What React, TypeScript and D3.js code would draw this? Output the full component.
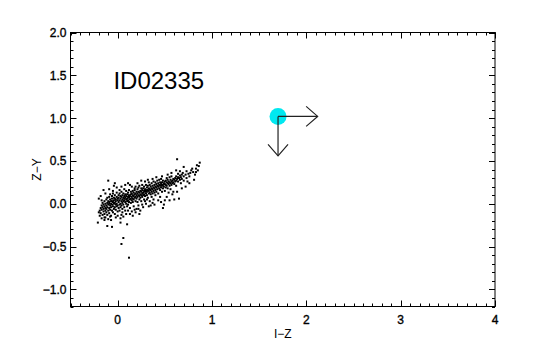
import * as d3 from "d3";

// I-Z vs Z-Y colour-colour diagram for ID02335

const xTicks = [0, 1, 2, 3, 4];
const yTicks = [-1.0, -0.5, 0.0, 0.5, 1.0, 1.5, 2.0];

const objectName = "ID02335";
const objectPoint = { iz: 1.7, zy: 1.02 };
// arrow vectors in data units (right and down)
const arrowRight = { diz: 0.42, dzy: 0 };
const arrowDown = { diz: 0, dzy: -0.46 };

// field stars: [I-Z, Z-Y]
const tipStars: [number, number][] = [
  [-0.21, -0.22], [-0.19, -0.08], [-0.18, -0.05], [-0.18, -0.11], [-0.17, -0.02], [-0.17, -0.07],
  [-0.16, -0.13], [-0.16, -0.04], [-0.16, 0.01], [-0.15, -0.09], [-0.15, -0.06], [-0.15, -0.01],
  [-0.14, -0.12], [-0.14, -0.03], [-0.14, 0.03], [-0.13, -0.08], [-0.13, -0.05], [-0.13, 0.0],
  [-0.13, -0.16], [-0.12, -0.1], [-0.12, -0.02], [-0.12, 0.05], [-0.12, -0.06], [-0.11, -0.13],
  [-0.11, -0.04], [-0.11, 0.01], [-0.11, 0.07], [-0.1, -0.08], [-0.1, -0.01], [-0.1, 0.03],
  [-0.1, -0.18], [-0.19, -0.14], [-0.2, -0.1], [-0.17, 0.04], [-0.14, -0.19],
  [-0.09, -0.05], [-0.09, 0.02], [-0.09, 0.08], [-0.09, -0.11], [-0.08, -0.02], [-0.08, 0.05],
  [-0.08, -0.07], [-0.08, 0.11], [-0.07, 0.0], [-0.07, -0.04], [-0.07, 0.03], [-0.07, -0.14],
  [-0.06, 0.06], [-0.06, -0.01], [-0.06, -0.08], [-0.06, 0.09], [-0.05, 0.02], [-0.05, -0.03],
  [-0.05, 0.12], [-0.05, -0.1], [-0.04, 0.04], [-0.04, 0.0], [-0.04, -0.06], [-0.04, 0.07],
  [-0.03, 0.01], [-0.03, -0.04], [-0.03, 0.1], [-0.03, -0.12], [-0.02, 0.05], [-0.02, -0.01],
  [-0.02, 0.03], [-0.02, -0.07], [-0.01, 0.08], [-0.01, 0.0], [-0.01, -0.03], [-0.01, 0.13],
  [0.0, 0.04], [0.0, -0.02], [0.0, 0.06], [0.0, -0.09], [-0.09, 0.0], [-0.06, 0.03],
  [-0.03, 0.06], [-0.08, -0.15], [-0.05, 0.15], [-0.02, -0.16],
];

const coreStars: [number, number][] = [
  [0.01, 0.02], [0.01, 0.07], [0.01, -0.05], [0.01, 0.1], [0.02, 0.04], [0.02, -0.01],
  [0.02, 0.12], [0.02, -0.08], [0.03, 0.06], [0.03, 0.0], [0.03, 0.09], [0.03, -0.04],
  [0.04, 0.03], [0.04, 0.08], [0.04, -0.02], [0.04, 0.14], [0.05, 0.05], [0.05, 0.01],
  [0.05, 0.1], [0.05, -0.06], [0.06, 0.07], [0.06, 0.03], [0.06, -0.01], [0.06, 0.12],
  [0.07, 0.04], [0.07, 0.09], [0.07, -0.04], [0.07, 0.06], [0.08, 0.02], [0.08, 0.11],
  [0.08, 0.07], [0.08, -0.08], [0.09, 0.05], [0.09, 0.09], [0.09, 0.0], [0.09, 0.15],
  [0.1, 0.06], [0.1, 0.03], [0.1, 0.11], [0.1, -0.03], [0.02, 0.16], [0.05, -0.1],
  [0.07, 0.17], [0.04, -0.13], [0.09, -0.12],
  [0.11, 0.08], [0.11, 0.04], [0.11, 0.13], [0.11, -0.01], [0.12, 0.07], [0.12, 0.1],
  [0.12, 0.02], [0.12, 0.16], [0.13, 0.05], [0.13, 0.09], [0.13, -0.05], [0.13, 0.22],
  [0.14, 0.11], [0.14, 0.06], [0.14, 0.14], [0.14, 0.01], [0.15, 0.08], [0.15, 0.12],
  [0.15, 0.04], [0.15, -0.09], [0.16, 0.1], [0.16, 0.06], [0.16, 0.15], [0.16, 0.02],
  [0.17, 0.09], [0.17, 0.13], [0.17, 0.05], [0.17, -0.03], [0.18, 0.11], [0.18, 0.07],
  [0.18, 0.16], [0.18, 0.18], [0.19, 0.08], [0.19, 0.12], [0.19, 0.03], [0.19, 0.2],
  [0.2, 0.1], [0.2, 0.14], [0.2, 0.06], [0.2, -0.06], [0.13, -0.12], [0.16, -0.14],
  [0.19, -0.1],
  [0.21, 0.12], [0.21, 0.08], [0.21, 0.17], [0.21, 0.02], [0.22, 0.1], [0.22, 0.14],
  [0.22, 0.19], [0.22, -0.02], [0.23, 0.13], [0.23, 0.09], [0.23, 0.05], [0.23, 0.21],
  [0.24, 0.11], [0.24, 0.15], [0.24, 0.07], [0.24, -0.08], [0.25, 0.14], [0.25, 0.1],
  [0.25, 0.18], [0.25, 0.03], [0.26, 0.12], [0.26, 0.16], [0.26, 0.08], [0.26, 0.22],
  [0.27, 0.13], [0.27, 0.1], [0.27, 0.18], [0.27, -0.04], [0.28, 0.15], [0.28, 0.11],
  [0.28, 0.2], [0.28, 0.05], [0.29, 0.14], [0.29, 0.17], [0.29, 0.09], [0.3, 0.16],
  [0.3, 0.12], [0.3, 0.22], [0.3, 0.0], [0.23, -0.12],
];

const midStars: [number, number][] = [
  [0.31, 0.14], [0.31, 0.19], [0.31, 0.1], [0.32, 0.16], [0.32, 0.21], [0.32, 0.07],
  [0.33, 0.15], [0.33, 0.18], [0.33, 0.12], [0.33, 0.25], [0.34, 0.17], [0.34, 0.13],
  [0.34, 0.22], [0.34, 0.03], [0.35, 0.16], [0.35, 0.2], [0.35, 0.11], [0.36, 0.18],
  [0.36, 0.14], [0.36, 0.24], [0.36, 0.08], [0.37, 0.17], [0.37, 0.21], [0.37, 0.12],
  [0.38, 0.19], [0.38, 0.15], [0.38, 0.26], [0.38, 0.05], [0.39, 0.18], [0.39, 0.22],
  [0.39, 0.13], [0.4, 0.2], [0.4, 0.16], [0.4, 0.25], [0.4, 0.1], [0.35, -0.02],
  [0.31, 0.05], [0.39, -0.01],
  [0.41, 0.19], [0.41, 0.23], [0.41, 0.14], [0.42, 0.21], [0.42, 0.17], [0.42, 0.27],
  [0.43, 0.2], [0.43, 0.24], [0.43, 0.12], [0.44, 0.22], [0.44, 0.18], [0.44, 0.28],
  [0.45, 0.21], [0.45, 0.16], [0.45, 0.25], [0.45, 0.08], [0.46, 0.23], [0.46, 0.19],
  [0.46, 0.29], [0.47, 0.21], [0.47, 0.25], [0.47, 0.14], [0.48, 0.22], [0.48, 0.18],
  [0.48, 0.27], [0.48, -0.05], [0.49, 0.24], [0.49, 0.2], [0.49, -0.01], [0.5, 0.23],
  [0.5, 0.26], [0.5, 0.15], [0.5, 0.04],
  [0.51, 0.22], [0.51, 0.27], [0.51, 0.19], [0.52, 0.25], [0.52, 0.21], [0.52, 0.3],
  [0.53, 0.24], [0.53, 0.18], [0.53, 0.28], [0.54, 0.23], [0.54, 0.26], [0.54, 0.13],
  [0.55, 0.25], [0.55, 0.21], [0.55, 0.31], [0.56, 0.24], [0.56, 0.28], [0.56, 0.17],
  [0.57, 0.26], [0.57, 0.22], [0.57, 0.32], [0.58, 0.27], [0.58, 0.24], [0.58, 0.11],
  [0.59, 0.29], [0.59, 0.25], [0.6, 0.28], [0.6, 0.23], [0.6, 0.05],
];

const redStars: [number, number][] = [
  [0.61, 0.3], [0.61, 0.26], [0.62, 0.32], [0.62, 0.27], [0.62, 0.21], [0.63, 0.29],
  [0.63, 0.52], [0.64, 0.31], [0.64, 0.26], [0.64, 0.35], [0.65, 0.3], [0.65, 0.06],
  [0.66, 0.33], [0.66, 0.28], [0.67, 0.31], [0.67, 0.24], [0.68, 0.34], [0.68, 0.29],
  [0.69, 0.36], [0.7, 0.32], [0.7, 0.43], [0.7, 0.27], [0.72, 0.34], [0.73, 0.3],
  [0.73, 0.38], [0.74, 0.26], [0.75, 0.35], [0.76, 0.32], [0.77, 0.36], [0.78, 0.39],
  [0.79, 0.41], [0.8, 0.37], [0.82, 0.34], [0.83, 0.37], [0.83, 0.41], [0.84, 0.45],
  [0.86, 0.44], [0.87, 0.48], [0.85, 0.39],
];

// looser stars above and below the main sequence
const haloStars: [number, number][] = [
  [-0.2, 0.06], [-0.18, 0.09], [-0.13, 0.12], [-0.09, 0.17], [-0.01, 0.19], [0.04, 0.2],
  [0.08, 0.22], [0.11, 0.24], [0.15, 0.2], [0.21, 0.24], [0.25, 0.27], [0.29, 0.26],
  [0.32, 0.28], [0.37, 0.29], [0.41, 0.31], [0.47, 0.32], [0.53, 0.34], [0.57, 0.36],
  [0.62, 0.39], [0.66, 0.38],
  [0.0, -0.14], [0.06, -0.15], [0.11, -0.08], [0.18, -0.07], [0.22, -0.06], [0.26, -0.01],
  [0.29, 0.03], [0.33, -0.03], [0.37, 0.01], [0.43, 0.04], [0.46, 0.02], [0.52, 0.08],
  [0.55, 0.04], [0.59, 0.14], [0.63, 0.14], [0.68, 0.18], [0.72, 0.2], [0.76, 0.24],
  [0.81, 0.28], [-0.17, -0.17], [-0.07, -0.19], [0.03, -0.17],
];

const outlierStars: [number, number][] = [
  [-0.1, 0.27], [-0.03, 0.24], [-0.15, 0.16], [-0.04, 0.21],
  [-0.06, -0.27], [0.03, -0.22], [0.1, -0.24], [-0.11, -0.26], [-0.14, -0.16],
  [0.06, -0.4], [0.04, -0.47], [0.12, -0.63],
];

const allStars = [...tipStars, ...coreStars, ...midStars, ...redStars, ...haloStars, ...outlierStars];

const W = 550;
const H = 350;
const FONT = "'Liberation Sans', Arial, Helvetica, sans-serif";

const fmtY = (v: number) => (v < 0 ? "\u2212" + Math.abs(v).toFixed(1) : v.toFixed(1));

export default function App() {
  const x = d3.scaleLinear().domain([-0.5, 4]).range([70.5, 495]);
  const y = d3.scaleLinear().domain([-1.2, 2.0]).range([306.5, 32.5]);
  const [x0, x1] = x.range();
  const [y0, y1] = y.range();

  const xMinor = d3.range(-5, 41).map((d) => d / 10);
  const yMinor = d3.range(-12, 21).map((d) => d / 10);

  const px = x(objectPoint.iz);
  const py = y(objectPoint.zy);
  const rx = x(objectPoint.iz + arrowRight.diz);
  const dy = y(objectPoint.zy + arrowDown.dzy);

  const labelStyle = { stroke: "#000", strokeWidth: 0.35 };

  return (
    <svg
      width={W}
      height={H}
      style={{ position: "absolute", left: 0, top: 0, background: "#fff" }}
      fontFamily={FONT}
    >
      {/* frame */}
      <rect x={x0} y={y1} width={x1 - x0} height={y0 - y1} fill="none" stroke="#000" strokeWidth={1} />

      {/* minor ticks */}
      {xMinor.map((t) => (
        <g key={"xm" + t} stroke="#000" strokeWidth={1}>
          <line x1={Math.round(x(t)) + 0.5} x2={Math.round(x(t)) + 0.5} y1={y0} y2={y0 - 3} />
          <line x1={Math.round(x(t)) + 0.5} x2={Math.round(x(t)) + 0.5} y1={y1} y2={y1 + 3} />
        </g>
      ))}
      {yMinor.map((t) => (
        <g key={"ym" + t} stroke="#000" strokeWidth={1}>
          <line x1={x0} x2={x0 + 3} y1={Math.round(y(t)) + 0.5} y2={Math.round(y(t)) + 0.5} />
          <line x1={x1} x2={x1 - 3} y1={Math.round(y(t)) + 0.5} y2={Math.round(y(t)) + 0.5} />
        </g>
      ))}

      {/* major ticks + labels */}
      {xTicks.map((t) => (
        <g key={"x" + t}>
          <line x1={Math.round(x(t)) + 0.5} x2={Math.round(x(t)) + 0.5} y1={y0} y2={y0 - 6} stroke="#000" />
          <line x1={Math.round(x(t)) + 0.5} x2={Math.round(x(t)) + 0.5} y1={y1} y2={y1 + 6} stroke="#000" />
          <text x={x(t)} y={y0 + 17} textAnchor="middle" fontSize={12} style={labelStyle}>
            {t}
          </text>
        </g>
      ))}
      {yTicks.map((t) => (
        <g key={"y" + t}>
          <line x1={x0} x2={x0 + 6} y1={Math.round(y(t)) + 0.5} y2={Math.round(y(t)) + 0.5} stroke="#000" />
          <line x1={x1} x2={x1 - 6} y1={Math.round(y(t)) + 0.5} y2={Math.round(y(t)) + 0.5} stroke="#000" />
          <text x={x0 - 4} y={y(t) + 4.5} textAnchor="end" fontSize={12} style={labelStyle}>
            {fmtY(t)}
          </text>
        </g>
      ))}

      {/* axis titles */}
      <text x={(x0 + x1) / 2} y={338} textAnchor="middle" fontSize={12}>
        I{"\u2212"}Z
      </text>
      <text transform={`translate(41,${(y0 + y1) / 2}) rotate(-90)`} textAnchor="middle" fontSize={12}>
        Z{"\u2212"}Y
      </text>

      {/* object name */}
      <text x={x(-0.045)} y={y(1.34)} fontSize={24}>
        {objectName}
      </text>

      {/* field stars */}
      {allStars.map(([a, b], i) => (
        <rect key={i} x={x(a) - 1} y={y(b) - 1} width={2} height={2} fill="#000" />
      ))}

      {/* object + arrows */}
      <circle cx={px} cy={py} r={8.5} fill="#00e8f0" />
      <g stroke="#222" strokeWidth={1.2} fill="none">
        <line x1={px} y1={py} x2={rx} y2={py} />
        <polyline points={`${rx - 11.5},${py - 10} ${rx},${py} ${rx - 11.5},${py + 10}`} />
        <line x1={px} y1={py} x2={px} y2={dy} />
        <polyline points={`${px - 10},${dy - 11.5} ${px},${dy} ${px + 10},${dy - 11.5}`} />
      </g>
    </svg>
  );
}
